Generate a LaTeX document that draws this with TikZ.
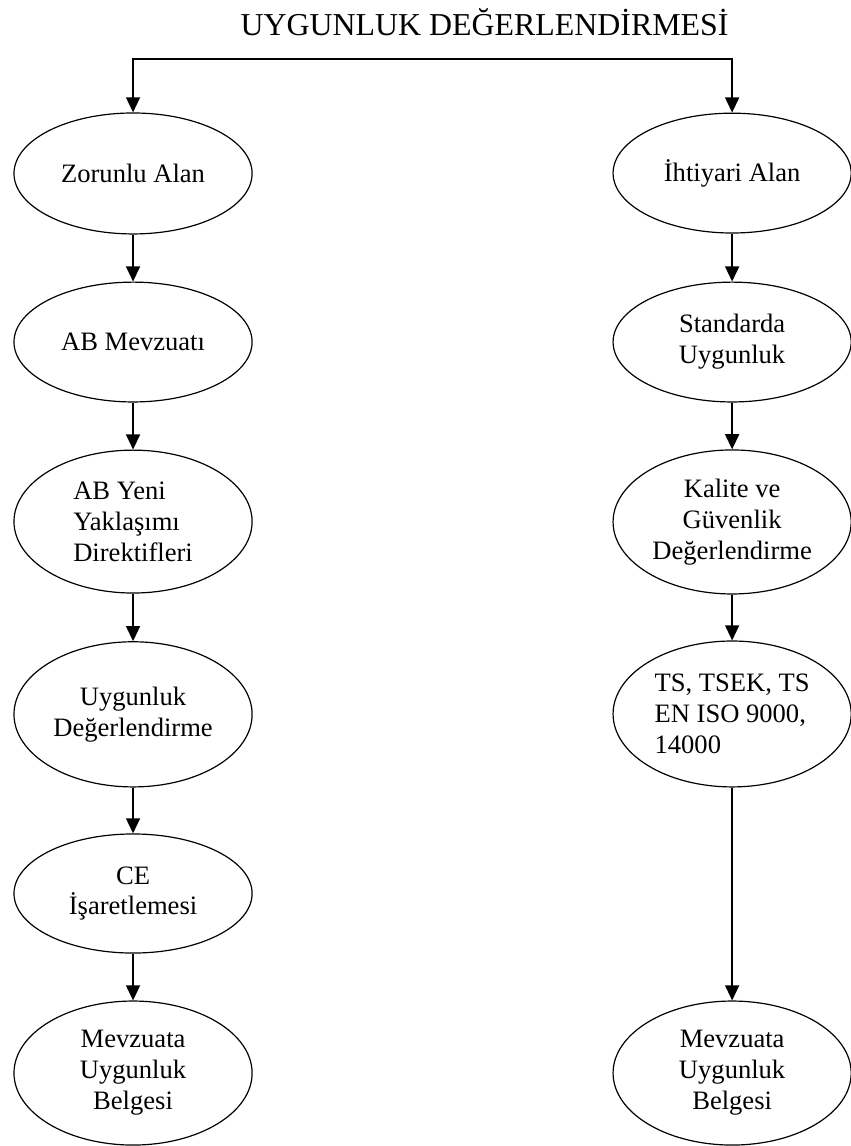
\documentclass[tikz,border=0pt]{standalone}
\usepackage{fontspec}
\setmainfont{Liberation Serif}
\usetikzlibrary{shapes.geometric,arrows.meta}

\begin{document}
\begin{tikzpicture}[
    >={Triangle[length=0.4cm, width=0.37cm]},
    oval/.style={draw, ellipse, line width=0.9pt, inner sep=0pt, minimum width=6.3cm, align=center, font={\fontsize{20}{23.25}\selectfont}},
    flow/.style={->, line width=1.2pt}
]
    \useasboundingbox (0,0) rectangle (22.49, 30.32);

    % Title
    \node[anchor=base, font={\fontsize{24}{28}\selectfont}] (title) at (12.82, 29.39) {UYGUNLUK DEĞERLENDİRMESİ};

    % Left branch
    \node[oval, minimum height=3.2cm] (zorunlu) at (3.52, 25.73) {Zorunlu Alan};
    \node[oval, minimum height=3.17cm] (abmev) at (3.52, 21.27) {AB Mevzuatı};
    \node[oval, minimum height=3.78cm, align=left] (abyeni) at (3.52, 16.52) {AB Yeni\\Yaklaşımı\\Direktifleri};
    \node[oval, minimum height=3.84cm] (uygdeg) at (3.52, 11.42) {Uygunluk\\Değerlendirme};
    \node[oval, minimum height=3.15cm] (ce) at (3.52, 6.68) {CE\\İşaretlemesi};
    \node[oval, minimum height=3.81cm] (belgeL) at (3.52, 1.93) {Mevzuata\\Uygunluk\\Belgesi};

    % Right branch
    \node[oval, minimum height=3.17cm] (ihtiyari) at (19.37, 25.74) {İhtiyari Alan};
    \node[oval, minimum height=3.17cm] (standart) at (19.37, 21.27) {Standarda\\Uygunluk};
    \node[oval, minimum height=3.81cm] (kalite) at (19.37, 16.51) {Kalite ve\\Güvenlik\\Değerlendirme};
    \node[oval, minimum height=3.86cm, align=left] (tsen) at (19.37, 11.43) {TS, TSEK, TS\\EN ISO 9000,\\14000};
    \node[oval, minimum height=3.81cm] (belgeR) at (19.37, 1.93) {Mevzuata\\Uygunluk\\Belgesi};

    % Split under the title
    \coordinate (split) at (11.45, 28.76);
    \draw[<->, line width=1.2pt] (zorunlu.north) |- (split) -| (ihtiyari.north);

    % Connectors
    \draw[flow] (zorunlu) -- (abmev);
    \draw[flow] (abmev) -- (abyeni);
    \draw[flow] (abyeni) -- (uygdeg);
    \draw[flow] (uygdeg) -- (ce);
    \draw[flow] (ce) -- (belgeL);

    \draw[flow] (ihtiyari) -- (standart);
    \draw[flow] (standart) -- (kalite);
    \draw[flow] (kalite) -- (tsen);
    \draw[flow] (tsen) -- (belgeR);

\end{tikzpicture}
\end{document}
